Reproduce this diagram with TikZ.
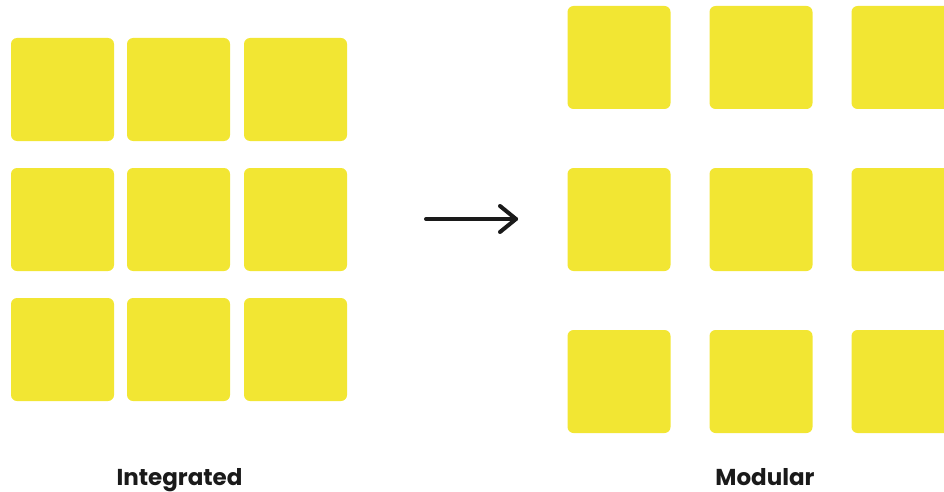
\documentclass[tikz,border=0pt]{standalone}
\usepackage{fontspec}
\setmainfont{Poppins}
\definecolor{tileyellow}{HTML}{F2E633}
\definecolor{inkdark}{HTML}{1A1A1A}
\begin{document}
\begin{tikzpicture}[x=1pt,y=-1pt,
  tile/.style={fill=tileyellow,draw=none,rounded corners=6pt,minimum width=103pt,minimum height=103pt,inner sep=0pt},
  caption/.style={anchor=base,text=inkdark,font=\fontsize{23}{27}\selectfont\bfseries,inner sep=0pt},
  flow/.style={draw=inkdark,line width=4pt,line cap=round,line join=round}]
\useasboundingbox (0,0) rectangle (944,492);
\clip (0,0) rectangle (944,492);
% Integrated grid
\foreach \c/\x in {1/62.5,2/178.5,3/295.5}{
  \foreach \r/\y in {1/89.5,2/219.5,3/349.5}{
    \node[tile] (L\r\c) at (\x,\y) {};
  }
}
% Modular grid
\foreach \c/\x in {1/619,2/761,3/903}{
  \foreach \r/\y in {1/57.5,2/219.5,3/381.5}{
    \node[tile] (R\r\c) at (\x,\y) {};
  }
}
% arrow
\coordinate (as) at (426,219);
\coordinate (ae) at (516,219);
\coordinate (au) at (500,206);
\coordinate (ad) at (500,232);
\draw[flow] (as) -- (ae);
\draw[flow] (au) -- (ae) -- (ad);
% labels
\node[caption] (tInt) at (179.5,485) {Integrated};
\node[caption] (tMod) at (765,485) {Modular};
\end{tikzpicture}
\end{document}
